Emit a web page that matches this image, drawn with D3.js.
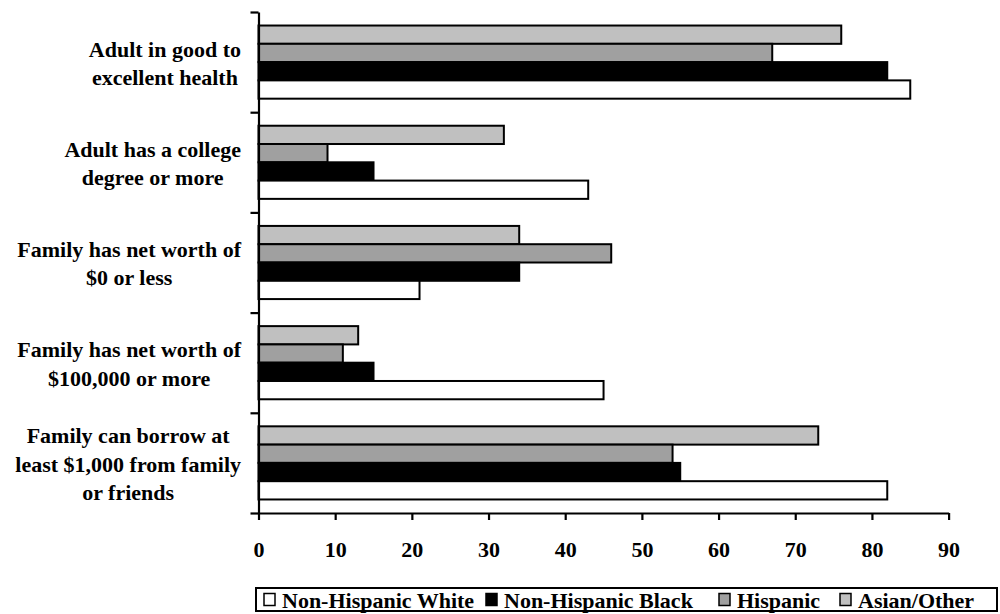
<!DOCTYPE html>
<html>
<head>
<meta charset="utf-8">
<script src="https://cdn.jsdelivr.net/npm/d3@7"></script>
<style>
  html, body { margin: 0; padding: 0; background: #fff; }
  svg { display: block; }
  text { font-family: "Liberation Serif", "Times New Roman", serif; font-weight: bold; fill: #000; }
</style>
</head>
<body>
<svg id="chart" width="1000" height="614"></svg>
<script>
const categories = ["health", "college", "nw0", "nw100k", "borrow"];
const categoryLines = [
  ["Adult in good to", "excellent health"],
  ["Adult has a college", "degree or more"],
  ["Family has net worth of", "$0 or less"],
  ["Family has net worth of", "$100,000 or more"],
  ["Family can borrow at", "least $1,000 from family", "or friends"]
];
const seriesNames = ["Non-Hispanic White", "Non-Hispanic Black", "Hispanic", "Asian/Other"];
const whiteValues    = [85, 43, 21, 45, 82];
const blackValues    = [82, 15, 34, 15, 55];
const hispanicValues = [67, 9, 46, 11, 54];
const asianValues    = [76, 32, 34, 13, 73];
const xTicks = [0, 10, 20, 30, 40, 50, 60, 70, 80, 90];
const seriesColors = ["#ffffff", "#000000", "#a0a0a0", "#c0c0c0"];

const seriesValues = [whiteValues, blackValues, hispanicValues, asianValues];
const stackOrder = [3, 2, 1, 0];

const svg = d3.select("#chart");
const plotL = 258.5, plotR = 948.6, plotT = 12, plotB = 513;

const x = d3.scaleLinear().domain([0, 90]).range([plotL, plotR]);
const y0 = d3.scaleBand().domain(categories).range([plotT, plotB])
  .paddingInner(0.27).paddingOuter(0.135);
const y1 = d3.scaleBand().domain(stackOrder).range([0, y0.bandwidth()]);

const groups = svg.append("g").selectAll("g")
  .data(categories).join("g")
  .attr("transform", d => `translate(0,${y0(d)})`);

groups.each(function(cat, ci) {
  d3.select(this).selectAll("rect")
    .data(stackOrder.map(si => ({si, v: seriesValues[si][ci]})))
    .join("rect")
    .attr("x", x(0))
    .attr("y", d => y1(d.si))
    .attr("width", d => x(d.v) - x(0))
    .attr("height", y1.bandwidth())
    .attr("fill", d => seriesColors[d.si])
    .attr("stroke", "#000")
    .attr("stroke-width", 2);
});

const yb = d3.scaleLinear().domain([0, categories.length]).range([plotT, plotB]);
const yAxis = svg.append("g").attr("transform", `translate(${x(0)},0)`)
  .call(d3.axisLeft(yb).tickValues(d3.range(categories.length + 1)).tickFormat("").tickSize(8).tickSizeOuter(0));
yAxis.select(".domain").attr("stroke", "#000").attr("stroke-width", 2.2);
yAxis.selectAll(".tick line").attr("stroke", "#000").attr("stroke-width", 2.2);

const xAxis = svg.append("g").attr("transform", `translate(0,${plotB})`)
  .call(d3.axisBottom(x).tickValues(xTicks).tickSize(7).tickSizeOuter(0).tickPadding(21));
xAxis.select(".domain").attr("stroke", "#000").attr("stroke-width", 2.2);
xAxis.selectAll(".tick line").attr("stroke", "#000").attr("stroke-width", 2.2);
xAxis.selectAll(".tick text").attr("font-size", 22).attr("font-family", "Liberation Serif").attr("font-weight", "bold").attr("fill", "#000");

const labelRight = 241, lineH = 28.5, labelSize = 22;
categories.forEach((cat, ci) => {
  const lines = categoryLines[ci];
  const g = svg.append("g");
  const texts = g.selectAll("text").data(lines).join("text")
    .attr("font-size", labelSize)
    .attr("text-anchor", "middle")
    .text(d => d);
  let maxW = 0;
  texts.each(function() { maxW = Math.max(maxW, this.getComputedTextLength()); });
  const cx = labelRight - maxW / 2;
  const cy = y0(cat) + y0.bandwidth() / 2 + 1;
  texts.attr("x", cx)
    .attr("y", (d, i) => cy + (i - (lines.length - 1) / 2) * lineH)
    .attr("dy", "0.35em");
});

const legend = svg.append("g");
const lgX = 256, lgY = 588, lgW = 741, lgH = 23;
legend.append("rect").attr("x", lgX).attr("y", lgY).attr("width", lgW).attr("height", lgH)
  .attr("fill", "#fff").attr("stroke", "#000").attr("stroke-width", 2);
const itemX = [264, 486, 719, 840];
seriesNames.forEach((name, i) => {
  legend.append("rect").attr("x", itemX[i]).attr("y", lgY + 5.5).attr("width", 11).attr("height", 12)
    .attr("fill", seriesColors[i]).attr("stroke", "#000").attr("stroke-width", 1.5);
  legend.append("text").attr("x", itemX[i] + 18).attr("y", lgY + lgH / 2 + 1).attr("dy", "0.35em")
    .attr("font-size", 22).text(name);
});
</script>
</body>
</html>
